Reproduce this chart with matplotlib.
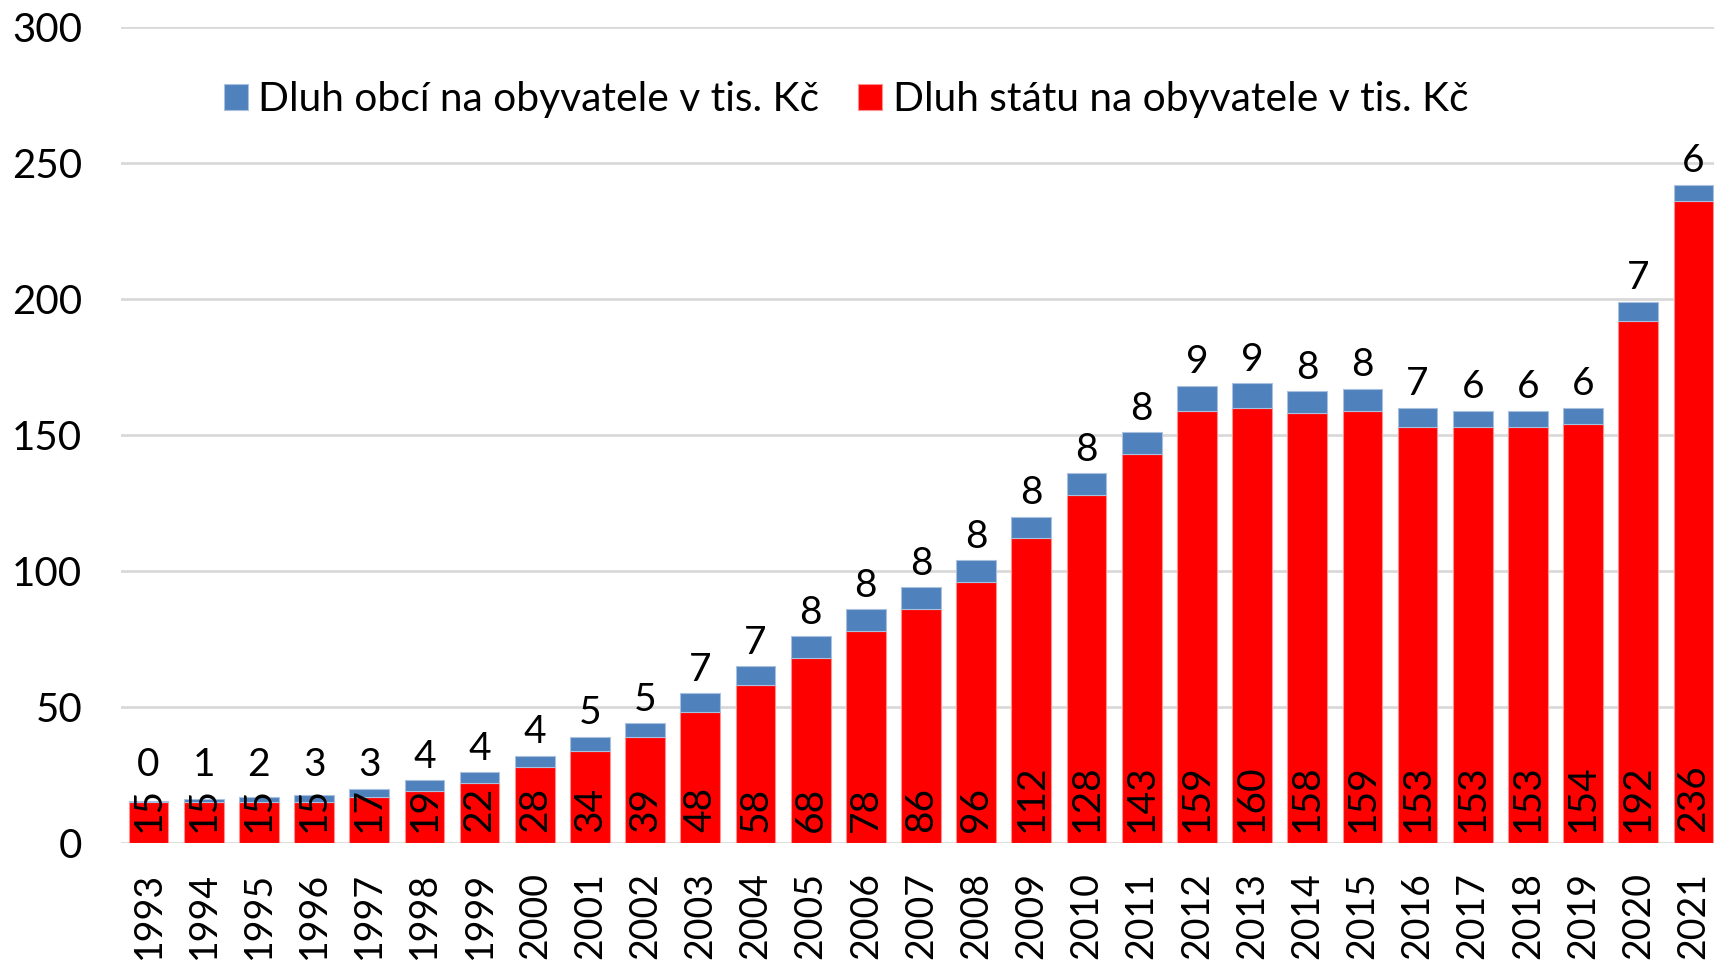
import numpy as np
import matplotlib
matplotlib.use("Agg")
import matplotlib.pyplot as plt

plt.rcParams['font.family'] = ['Lato', 'DejaVu Sans']

# Data (tis. Kč na obyvatele)
years = [str(y) for y in range(1993, 2022)]
stat = [15, 15, 15, 15, 17, 19, 22, 28, 34, 39, 48, 58, 68, 78, 86, 96, 112,
        128, 143, 159, 160, 158, 159, 153, 153, 153, 154, 192, 236]
obce = [0.4, 1.3, 2, 2.6, 3, 4, 4, 4, 5, 5, 7, 7, 8, 8, 8, 8, 8,
        8, 8, 9, 9, 8, 8, 7, 6, 6, 6, 7, 6]
yticks = [0, 50, 100, 150, 200, 250, 300]

RED = '#FF0000'
BLUE = '#4F81BD'
W, H = 1714, 963

fig = plt.figure(figsize=(W / 100, H / 100), dpi=100)
ax = fig.add_axes([121 / W, 120 / H, 1600 / W, 816 / H])

x = np.arange(len(years))
stat_a = np.array(stat, dtype=float)
obce_a = np.array(obce, dtype=float)

ax.bar(x, stat_a, width=0.72, color=RED, edgecolor='#FF9090', linewidth=0.8,
       label='Dluh státu na obyvatele v tis. Kč', zorder=3)
ax.bar(x, obce_a, bottom=stat_a, width=0.72, color=BLUE, edgecolor='#A9C0DE',
       linewidth=0.8, label='Dluh obcí na obyvatele v tis. Kč', zorder=3)

# popisky uvnitř červených sloupců
for xi, v in zip(x, stat_a):
    ax.annotate(f'{v:.0f}', (xi, 0), xytext=(0, 8), textcoords='offset points',
                rotation=90, ha='center', va='bottom', fontsize=28, zorder=4)

# popisky nad sloupci (dluh obcí)
for xi, s, o in zip(x, stat_a, obce_a):
    ax.annotate(f'{o:.0f}', (xi, max(s + o, 20)), xytext=(0, 4),
                textcoords='offset points', ha='center', va='bottom',
                fontsize=28, zorder=4)

ax.set_xlim(-0.5, 28.5)
ax.set_ylim(0, 300)
ax.set_yticks(yticks)
ax.set_xticks(x)
ax.set_xticklabels(years, rotation=90, fontsize=27)
ax.tick_params(axis='y', labelsize=29, length=0, pad=28)
ax.tick_params(axis='x', length=0, pad=21)
ax.grid(axis='y', color='#D9D9D9', linewidth=2, zorder=0)
ax.set_axisbelow(True)
for sp in ax.spines.values():
    sp.set_visible(False)

handles, labels = ax.get_legend_handles_labels()
leg = fig.legend(handles[::-1], labels[::-1], loc='center', ncol=2,
                 bbox_to_anchor=(846 / W, 1 - 100 / H), frameon=False,
                 fontsize=29.3, handlelength=0.6, handleheight=0.6,
                 handletextpad=0.25, columnspacing=0.95)

fig.savefig('out.png', dpi=100)
